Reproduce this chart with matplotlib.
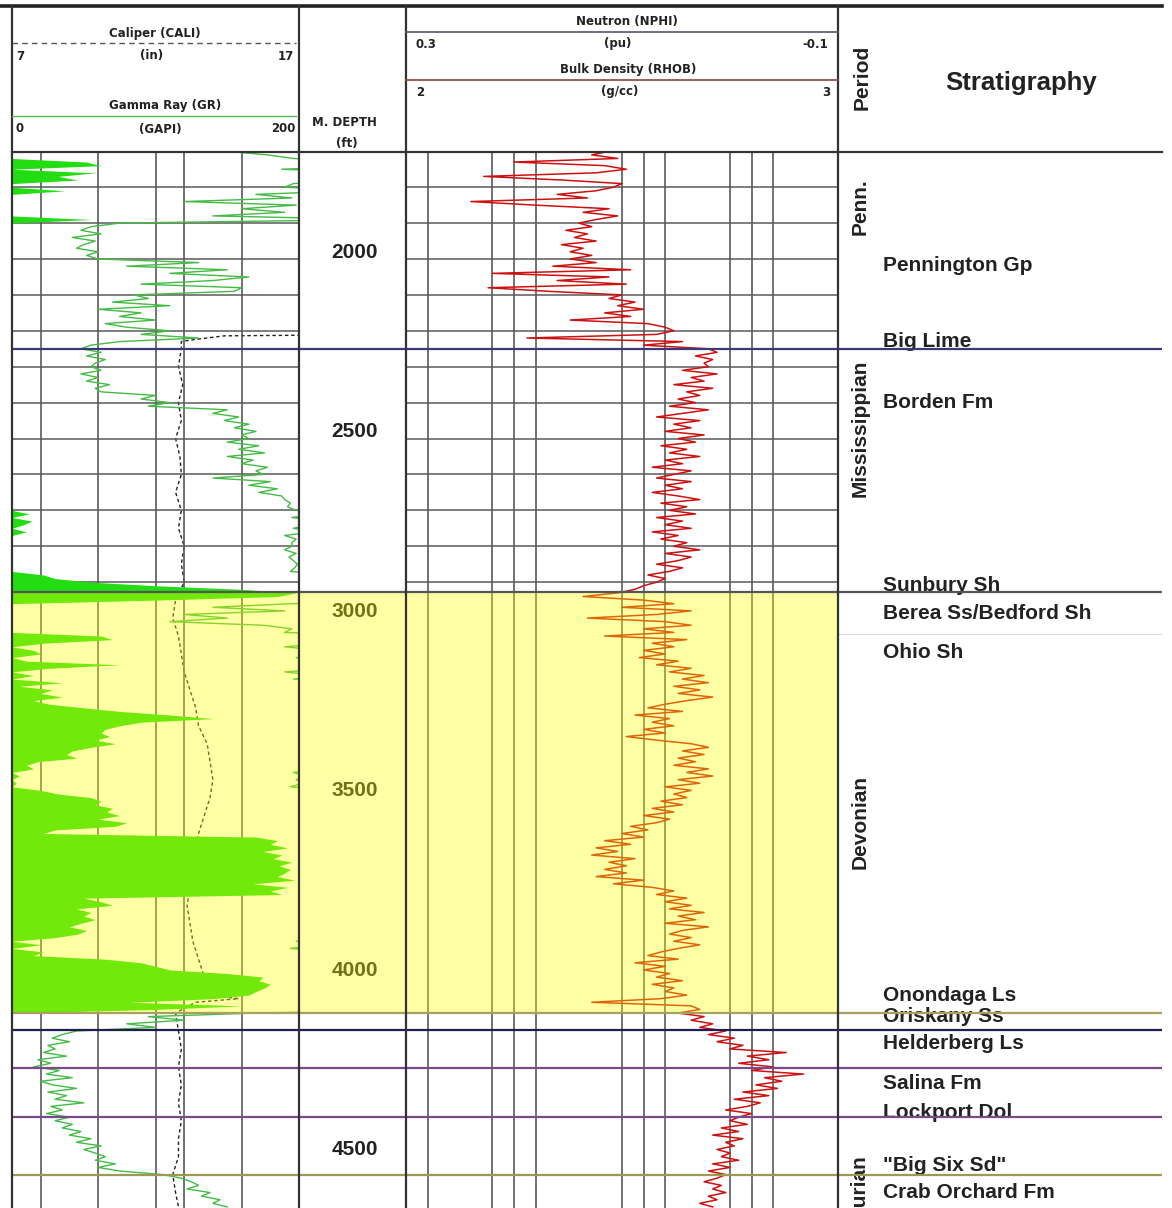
import numpy as np
import matplotlib
matplotlib.use('Agg')
import matplotlib.pyplot as plt

# ---- log data (10 ft samples) ----
depth = np.arange(1700, 4650, 10)

gr = [150, 178, 196, 252, 262, 188, 258, 232, 246, 196,   # 1700
      190, 237, 170, 195, 120, 198, 160, 190, 140, 255,   # 1800
      75, 55, 48, 62, 42, 58, 50, 45, 60, 52,             # 1900
      60, 130, 80, 150, 110, 165, 140, 90, 160, 155,      # 2000
      85, 95, 70, 110, 60, 90, 75, 100, 65, 80,           # 2100
      110, 90, 130, 75, 55, 48, 62, 52, 65, 58,           # 2200
      55, 62, 48, 60, 52, 68, 58, 62, 100, 90,            # 2300
      110, 95, 150, 140, 158, 148, 165, 155, 170, 160,    # 2400
      165, 150, 172, 158, 176, 150, 168, 160, 178, 170,   # 2500
      175, 140, 180, 165, 185, 172, 188, 190, 194, 192,   # 2600
      198, 212, 195, 214, 208, 196, 210, 190, 198, 195,   # 2700
      195, 190, 198, 193, 196, 199, 197, 194, 222, 230,   # 2800
      255, 300, 360, 398, 385, 300, 195, 140, 190, 120,   # 2900
      150, 110, 175, 195, 190, 262, 270, 222, 190, 215,   # 3000
      220, 198, 210, 275, 225, 190, 215, 196, 235, 205,   # 3100
      228, 220, 235, 215, 226, 250, 275, 310, 340, 290,   # 3200
      275, 265, 262, 268, 258, 272, 255, 242, 238, 245,   # 3300
      218, 210, 215, 196, 205, 198, 203, 194, 220, 232,   # 3400
      255, 262, 258, 270, 266, 275, 260, 280, 272, 230,   # 3500
      222, 370, 385, 380, 392, 375, 388, 382, 395, 386,   # 3600
      394, 390, 385, 397, 368, 392, 380, 388, 250, 262,   # 3700
      270, 245, 255, 250, 258, 248, 240, 252, 246, 230,   # 3800
      198, 220, 194, 222, 215, 265, 290, 300, 310, 350,   # 3900
      375, 372, 380, 376, 370, 365, 340, 282, 360, 300,   # 4000
      170, 95, 120, 80, 100, 45, 35, 28, 40, 25,          # 4100
      30, 22, 38, 18, 27, 15, 33, 24, 42, 20,             # 4200
      28, 45, 25, 38, 30, 50, 27, 35, 24, 40,             # 4300
      30, 42, 35, 48, 40, 55, 45, 62, 50, 58,             # 4400
      65, 58, 72, 60, 75, 105, 118, 125, 130, 122,        # 4500
      138, 132, 145, 140, 150]                            # 4600

rhob = [2.47, 2.43, 2.49, 2.25, 2.46, 2.51, 2.44, 2.18, 2.36, 2.50,
        2.48, 2.44, 2.35, 2.42, 2.15, 2.30, 2.47, 2.41, 2.49, 2.44,
        2.40, 2.43, 2.37, 2.42, 2.39, 2.44, 2.36, 2.41, 2.38, 2.43,
        2.38, 2.44, 2.34, 2.52, 2.20, 2.47, 2.35, 2.51, 2.19, 2.33,
        2.50, 2.47, 2.53, 2.49, 2.55, 2.46, 2.52, 2.38, 2.56, 2.60,
        2.62, 2.58, 2.28, 2.64, 2.55, 2.70, 2.72, 2.67, 2.71, 2.69,
        2.70, 2.64, 2.72, 2.66, 2.69, 2.62, 2.71, 2.65, 2.68, 2.63,
        2.67, 2.61, 2.70, 2.64, 2.58, 2.68, 2.62, 2.66, 2.60, 2.69,
        2.63, 2.67, 2.59, 2.65, 2.61, 2.68, 2.60, 2.64, 2.57, 2.66,
        2.62, 2.58, 2.66, 2.60, 2.64, 2.57, 2.63, 2.68, 2.59, 2.65,
        2.61, 2.67, 2.58, 2.64, 2.60, 2.66, 2.57, 2.63, 2.59, 2.65,
        2.62, 2.68, 2.60, 2.66, 2.63, 2.58, 2.64, 2.61, 2.56, 2.60,
        2.58, 2.55, 2.53, 2.49, 2.41, 2.55, 2.62, 2.50, 2.66, 2.58,
        2.42, 2.60, 2.66, 2.55, 2.62, 2.46, 2.65, 2.57, 2.62, 2.55,
        2.60, 2.54, 2.63, 2.58, 2.66, 2.61, 2.69, 2.64, 2.70, 2.62,
        2.68, 2.63, 2.71, 2.65, 2.60, 2.56, 2.64, 2.53, 2.61, 2.57,
        2.62, 2.55, 2.60, 2.51, 2.58, 2.66, 2.70, 2.64, 2.69, 2.63,
        2.67, 2.62, 2.70, 2.65, 2.71, 2.63, 2.68, 2.60, 2.66, 2.62,
        2.65, 2.59, 2.64, 2.57, 2.62, 2.55, 2.61, 2.58, 2.52, 2.56,
        2.50, 2.55, 2.46, 2.52, 2.44, 2.49, 2.43, 2.53, 2.47, 2.51,
        2.46, 2.51, 2.44, 2.55, 2.48, 2.57, 2.62, 2.58, 2.65, 2.60,
        2.66, 2.61, 2.69, 2.63, 2.67, 2.60, 2.70, 2.64, 2.61, 2.66,
        2.62, 2.68, 2.63, 2.59, 2.56, 2.63, 2.53, 2.60, 2.55, 2.61,
        2.58, 2.64, 2.57, 2.62, 2.60, 2.65, 2.59, 2.43, 2.66, 2.68,
        2.63, 2.69, 2.66, 2.71, 2.68, 2.74, 2.70, 2.76, 2.72, 2.78,
        2.75, 2.88, 2.79, 2.84, 2.77, 2.85, 2.80, 2.92, 2.83, 2.87,
        2.81, 2.86, 2.78, 2.84, 2.76, 2.82, 2.79, 2.74, 2.80, 2.77,
        2.75, 2.79, 2.73, 2.77, 2.71, 2.78, 2.74, 2.76, 2.72, 2.75,
        2.73, 2.77, 2.71, 2.75, 2.70, 2.74, 2.72, 2.69, 2.73, 2.71,
        2.74, 2.70, 2.72, 2.68, 2.71]

cali_depth = [2212, 2214, 2226, 2230, 2250, 2300, 2350, 2400, 2450, 2500,
              2550, 2600, 2650, 2700, 2750, 2800, 2850, 2900, 2950, 3000,
              3050, 3100, 3150, 3200, 3250, 3300, 3350, 3400, 3450, 3500,
              3550, 3600, 3650, 3700, 3750, 3800, 3850, 3900, 3950, 4000,
              4050, 4060, 4070, 4100, 4150, 4200, 4250, 4300, 4350, 4400,
              4450, 4500, 4550, 4600, 4640]
cali = [17.5, 14.4, 13.2, 12.9, 12.9, 12.8, 12.95, 12.8, 12.9, 12.7,
        12.85, 12.9, 12.7, 12.9, 12.8, 13.0, 12.9, 13.0, 12.7, 12.6,
        12.8, 12.9, 13.0, 13.2, 13.4, 13.5, 13.8, 13.9, 14.0, 13.9,
        13.7, 13.5, 13.4, 13.3, 13.2, 13.1, 13.2, 13.3, 13.5, 13.7,
        13.9, 14.9, 13.4, 12.7, 12.8, 12.9, 12.8, 12.9, 12.8, 12.9,
        12.8, 12.8, 12.6, 12.7, 12.8]

# formation tops and labels
tops = [2250, 2928, 4100, 4148, 4253, 4390, 4552]
top_colors = ['#3a3a78', '#555555', '#a8a060', '#1e1e50', '#7a4a8a', '#7a4a8a', '#9a9a50']
strat_names = ['Pennington Gp', 'Big Lime', 'Borden Fm', 'Sunbury Sh', 'Berea Ss/Bedford Sh',
               'Ohio Sh', 'Onondaga Ls', 'Oriskany Ss', 'Helderberg Ls', 'Salina Fm',
               'Lockport Dol', '"Big Six Sd"', 'Crab Orchard Fm']
strat_depths = [2017, 2231, 2401, 2908, 2986, 3095, 4050, 4111, 4184, 4295, 4376, 4524, 4599]
periods = ['Penn.', 'Mississippian', 'Devonian', 'Silurian']
period_depths = [1855, 2471, 3568, 4602]
highlight = (2928, 4100)
depth_labels = [2000, 2500, 3000, 3500, 4000, 4500]
gr_grid = [20, 60, 100, 120, 160]
rhob_grid = [2.05, 2.2, 2.25, 2.3, 2.5, 2.55, 2.6, 2.75, 2.8, 2.85]
grid_depths = [1800, 1900, 2000, 2100, 2200, 2300, 2400, 2500, 2600, 2700, 2800, 2900]

W, H = 1172, 1208
fig = plt.figure(figsize=(W / 100, H / 100), dpi=100)
fig.patch.set_facecolor('white')

def box(x0, x1):
    return [x0 / W, 0, (x1 - x0) / W, 1 - 152 / H]

ytop, ybot = 1702, 4643
ax_gr = fig.add_axes(box(12, 299))
ax_dp = fig.add_axes(box(299, 406))
ax_rh = fig.add_axes(box(406, 838))
ax_st = fig.add_axes(box(838, 1162))
for ax in (ax_gr, ax_dp, ax_rh, ax_st):
    ax.set_ylim(ybot, ytop)
    ax.set_xticks([])
    ax.set_yticks([])
    for s in ax.spines.values():
        s.set_visible(False)

# caliper on a twin axis drawn below the GR fill
ax_cal = ax_gr.twiny()
ax_cal.set_xlim(7, 17)
ax_cal.set_ylim(ybot, ytop)
ax_cal.axis('off')
ax_cal.set_zorder(ax_gr.get_zorder() - 1)
ax_gr.patch.set_visible(False)
ax_cal.plot(cali, cali_depth, color='#222222', lw=1.0, dashes=(2.5, 2))

# track 1: gamma ray with wrapped backup fill
gr_a = np.array(gr, dtype=float)
wrap = np.clip(gr_a - 200, 0, 200)
ax_gr.set_xlim(0, 200)
for g in gr_grid:
    ax_gr.axvline(g, color='#5a5a5a', lw=1.2, zorder=1)
for d in grid_depths:
    ax_gr.axhline(d, color='#5a5a5a', lw=1.1, zorder=1)
ax_gr.fill_betweenx(depth, 0, wrap, color='#22dd11', lw=0, zorder=3)
ax_gr.plot(gr_a, depth, color='#44bb44', lw=1.0, zorder=4)

# track 3: bulk density
ax_rh.set_xlim(2, 3)
for r in rhob_grid:
    ax_rh.axvline(r, color='#5a5a5a', lw=1.2, zorder=1)
for d in grid_depths:
    ax_rh.axhline(d, color='#5a5a5a', lw=1.1, zorder=1)
ax_rh.plot(rhob, depth, color='#cc1111', lw=1.1, zorder=4)

# depth track
ax_dp.set_xlim(0, 1)
for d in depth_labels:
    ax_dp.text(0.52, d - 19, str(d), ha='center', va='center', fontsize=15,
               fontweight='bold', family='Liberation Sans', color='#222222', zorder=3)

# yellow highlight over the tracks
for ax in (ax_gr, ax_dp, ax_rh):
    ax.axhspan(highlight[0], highlight[1], color='#ffff00', alpha=0.36, lw=0, zorder=10)

# formation tops across everything
for ax in (ax_gr, ax_dp, ax_rh, ax_st):
    for d, c in zip(tops, top_colors):
        ax.axhline(d, color=c, lw=1.6, zorder=11)
ax_st.axhline(3045, color='#d8d8d8', lw=0.9)

# period / stratigraphy column
ax_st.set_xlim(0, 1)
for name, d in zip(periods, period_depths):
    ax_st.text(0.068, d, name, rotation=90, ha='center', va='center', fontsize=15,
               fontweight='bold', family='Liberation Sans', color='#222222')
for name, d in zip(strat_names, strat_depths):
    ax_st.text(0.139, d, name, ha='left', va='center', fontsize=15,
               fontweight='bold', family='Liberation Sans', color='#222222')

# header and borders on a pixel overlay
ax_h = fig.add_axes([0, 0, 1, 1])
ax_h.set_xlim(0, W)
ax_h.set_ylim(H, 0)
ax_h.axis('off')
ax_h.patch.set_visible(False)
ax_h.set_zorder(20)

ax_h.plot([0, 1162], [6, 6], color='#222222', lw=2.6)
ax_h.plot([12, 1162], [152, 152], color='#333333', lw=1.6)
for x in (12, 299, 406, 838):
    ax_h.plot([x, x], [6, H], color='#333333', lw=1.6)
ax_h.plot([12, 296], [43, 43], color='#555555', lw=1.0, dashes=(4, 3))
ax_h.plot([12, 296], [116, 116], color='#55bb55', lw=1.0)
ax_h.plot([406, 838], [32, 32], color='#555570', lw=1.2)
ax_h.plot([406, 838], [80, 80], color='#8a4444', lw=1.2)

hs = dict(fontsize=8.5, fontweight='bold', family='DejaVu Sans', color='#222222', va='center')
ax_h.text(155, 33, 'Caliper (CALI)', ha='center', **hs)
ax_h.text(16, 56, '7', ha='left', **hs)
ax_h.text(152, 56, '(in)', ha='center', **hs)
ax_h.text(294, 56, '17', ha='right', **hs)
ax_h.text(165, 106, 'Gamma Ray (GR)', ha='center', **hs)
ax_h.text(16, 129, '0', ha='left', **hs)
ax_h.text(160, 129, '(GAPI)', ha='center', **hs)
ax_h.text(296, 129, '200', ha='right', **hs)
ax_h.text(344, 122, 'M. DEPTH', ha='center', **hs)
ax_h.text(347, 143, '(ft)', ha='center', **hs)
ax_h.text(627, 21, 'Neutron (NPHI)', ha='center', **hs)
ax_h.text(416, 44, '0.3', ha='left', **hs)
ax_h.text(618, 44, '(pu)', ha='center', **hs)
ax_h.text(828, 44, '-0.1', ha='right', **hs)
ax_h.text(628, 70, 'Bulk Density (RHOB)', ha='center', **hs)
ax_h.text(416, 92, '2', ha='left', **hs)
ax_h.text(620, 92, '(g/cc)', ha='center', **hs)
ax_h.text(830, 92, '3', ha='right', **hs)
ax_h.text(862, 77, 'Period', rotation=90, ha='center', va='center', fontsize=15,
          fontweight='bold', family='Liberation Sans', color='#222222')
ax_h.text(1021, 83, 'Stratigraphy', ha='center', va='center', fontsize=18.5,
          fontweight='bold', family='Liberation Sans', color='#222222')

fig.savefig('out.png', dpi=100, facecolor='white')
